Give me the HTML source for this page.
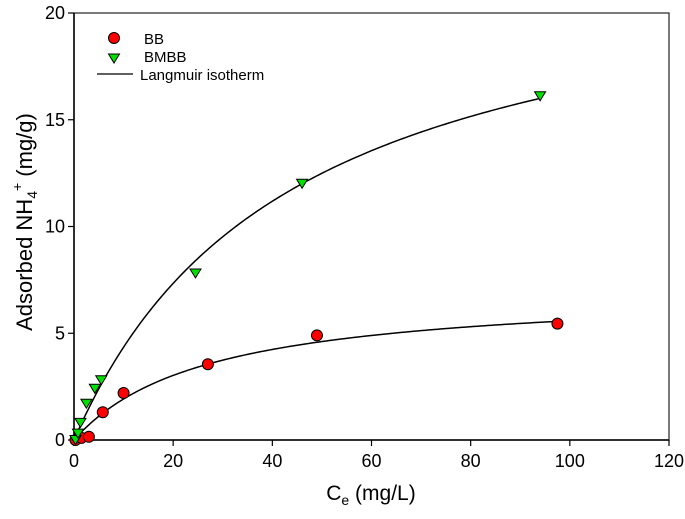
<!DOCTYPE html>
<html><head><meta charset="utf-8"><style>
body{margin:0;background:#fff;}
svg{display:block;font-family:"Liberation Sans",Arial,sans-serif;}
</style></head><body>
<svg id="chart" width="685" height="519" viewBox="0 0 685 519">
<g id="axes"></g>
<g id="curves"></g>
<g id="points"></g>
<g>
  <circle cx="114" cy="38" r="5.5" fill="#ff0000" stroke="#000" stroke-width="1"/>
  <text x="144" y="44" font-size="15">BB</text>
  <polygon points="108.5,54 119.5,54 114,63" fill="#00e000" stroke="#000" stroke-width="1"/>
  <text x="144" y="62" font-size="15">BMBB</text>
  <line x1="97" y1="74" x2="133" y2="74" stroke="#000" stroke-width="1.2"/>
  <text x="140" y="80" font-size="15">Langmuir isotherm</text>
</g>
<text x="371" y="500" font-size="21" text-anchor="middle">C<tspan font-size="14" dy="5">e</tspan><tspan dy="-5"> (mg/L)</tspan></text>
<text transform="translate(32,222) rotate(-90)" font-size="22" text-anchor="middle">Adsorbed NH<tspan font-size="14" dy="5">4</tspan><tspan font-size="14" dy="-15">+</tspan><tspan dy="10"> (mg/g)</tspan></text>
</svg>
<script>
const xTicks=[0,20,40,60,80,100,120];
const yTicks=[0,5,10,15,20];
const bbX=[0.3,1.5,3,5.8,10,27,49,97.5];
const bbY=[0,0.1,0.15,1.3,2.2,3.55,4.9,5.45];
const bmbbX=[0.3,0.8,1.3,2.5,4.2,5.5,24.5,46,94];
const bmbbY=[0,0.3,0.8,1.7,2.4,2.8,7.8,12,16.1];
const bbQm=7.09, bbK=0.0372, bbMax=97.5;
const bmbbQm=23.5, bmbbK=0.0227, bmbbMax=94;

const L=74,R=669,T=13,B=440;
const sx=v=>L+(v-0)/(120-0)*(R-L);
const sy=v=>B-(v-0)/(20-0)*(B-T);
const NS='http://www.w3.org/2000/svg';
function mk(tag,attrs,parent){const e=document.createElementNS(NS,tag);for(const k in attrs)e.setAttribute(k,attrs[k]);parent.appendChild(e);return e;}
const axes=document.getElementById('axes');
const frame=mk('rect',{x:L,y:T,width:R-L,height:B-T,fill:'none',stroke:'#333','stroke-width':1.3},axes);


const xa=mk('line',{x1:L,y1:B,x2:R,y2:B,stroke:'#000','stroke-width':1.5},axes);


const ya=mk('line',{x1:L,y1:T,x2:L,y2:B,stroke:'#000','stroke-width':1.5},axes);


xTicks.forEach(t=>{
  const tk=mk('line',{x1:sx(t),y1:B,x2:sx(t),y2:B+6,stroke:'#000','stroke-width':1.2},axes);
  
  
  const tx=mk('text',{x:sx(t),y:B+27,'font-size':18,'text-anchor':'middle'},axes);
  tx.textContent=t;
  
  
});
yTicks.forEach(t=>{
  const tk=mk('line',{x1:L-6,y1:sy(t),x2:L,y2:sy(t),stroke:'#000','stroke-width':1.2},axes);
  
  
  const tx=mk('text',{x:L-9,y:sy(t)+6,'font-size':18,'text-anchor':'end'},axes);
  tx.textContent=t;
  
  
});
const curves=document.getElementById('curves');
function curve(qm,k,max,name){
  let d='';
  for(let i=0;i<=200;i++){const c=max*i/200;const q=qm*k*c/(1+k*c);d+=(i?'L':'M')+sx(c).toFixed(2)+','+sy(q).toFixed(2);}
  const p=mk('path',{d:d,fill:'none',stroke:'#000','stroke-width':1.5},curves);
  
  
}
curve(bbQm,bbK,bbMax,'bb-langmuir-curve');
curve(bmbbQm,bmbbK,bmbbMax,'bmbb-langmuir-curve');
const pts=document.getElementById('points');
bbX.forEach((x,i)=>{
  const c=mk('circle',{cx:sx(x),cy:sy(bbY[i]),r:5.5,fill:'#ff0000',stroke:'#000','stroke-width':1},pts);
  
  
});
bmbbX.forEach((x,i)=>{
  const cx=sx(x),cy=sy(bmbbY[i]);
  const p=mk('polygon',{points:`${cx-5.5},${cy-4.5} ${cx+5.5},${cy-4.5} ${cx},${cy+4.5}`,fill:'#00e000',stroke:'#000','stroke-width':1},pts);
  
  
});
</script>
</body></html>
